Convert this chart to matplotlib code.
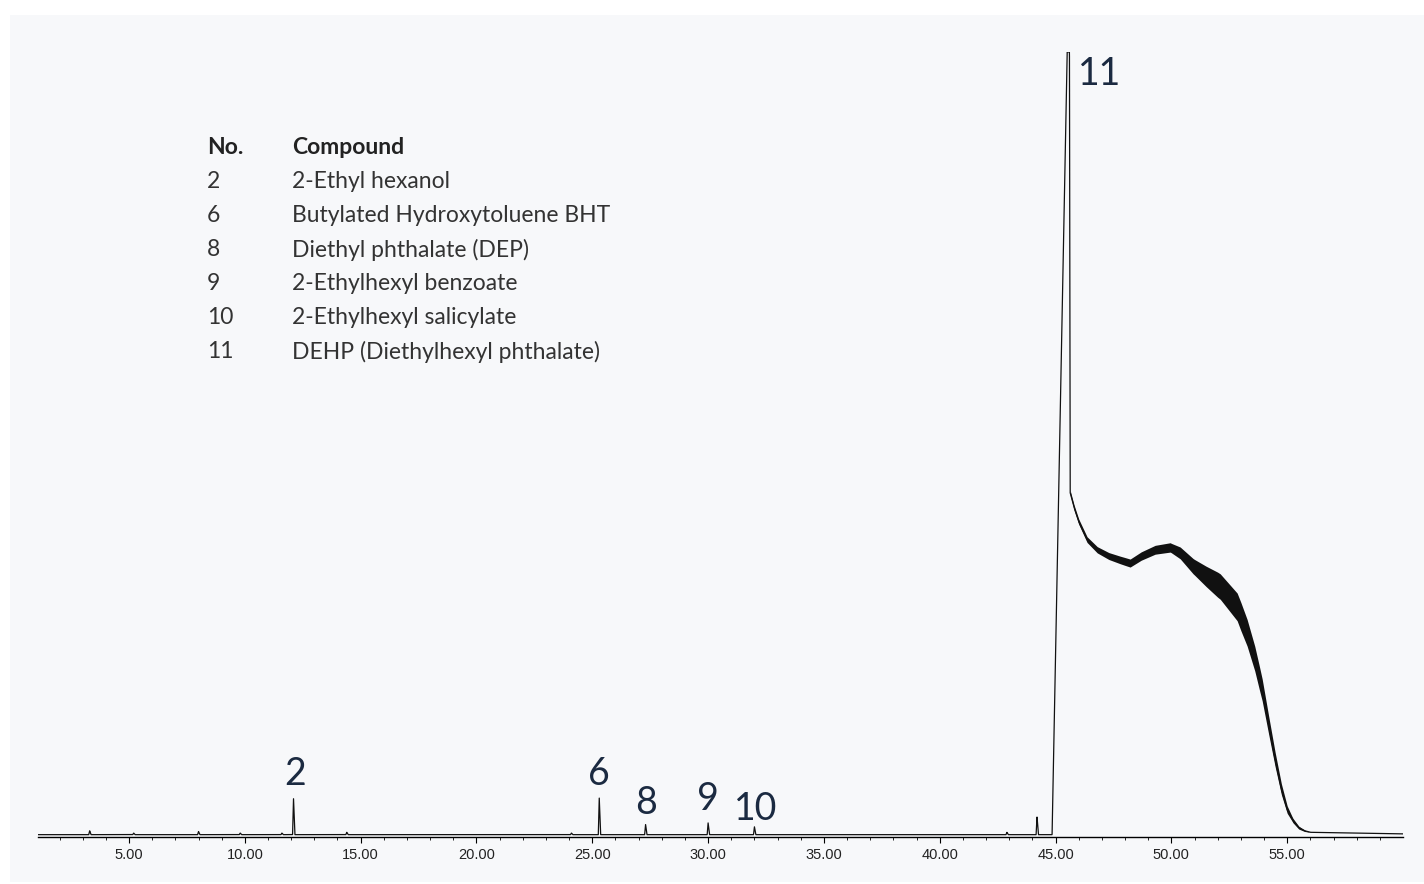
import numpy as np
import matplotlib.pyplot as plt
from matplotlib.patches import Rectangle

# pics (tiempo, altura)
peak_t = [3.3, 5.2, 8.0, 9.8, 11.6, 12.1, 14.4, 24.1, 25.3, 27.3, 30.0, 32.0, 42.9, 44.2]
peak_h = [0.5, 0.2, 0.4, 0.2, 0.2, 4.7, 0.3, 0.2, 4.7, 1.3, 1.5, 1.0, 0.3, 2.3]

# pico principal 11 y cola
main_t = [44.85, 45.50, 45.60, 45.63, 45.80, 46.00, 46.36, 46.80, 47.30, 47.79, 48.22,
          48.70, 49.30, 49.95, 50.38, 50.94, 51.50, 52.11, 52.84, 53.27, 53.60, 53.92,
          54.20, 54.48, 54.75, 55.00, 55.25, 55.50, 55.75, 56.00, 60.0]
main_y = [0.0, 100.0, 100.0, 43.7, 41.8, 40.0, 37.7, 36.4, 35.6, 35.1, 34.7,
          35.6, 36.4, 36.7, 36.0, 34.3, 33.0, 31.7, 29.1, 25.8, 22.5, 18.5,
          14.0, 9.6, 5.8, 3.2, 1.8, 0.9, 0.5, 0.3, 0.1]
# semi-ancho de la banda de ruido
band_t = [45.6, 48.0, 50.0, 51.0, 52.0, 53.0, 53.8, 54.5, 55.2, 56.0]
band_w = [0.3, 0.5, 0.6, 1.0, 1.6, 1.8, 1.5, 0.9, 0.3, 0.0]

labels = ['2', '6', '8', '9', '10', '11']
label_t = [12.15, 25.30, 27.30, 30.00, 32.05, 45.97]
label_y = [5.4, 5.4, 1.7, 2.3, 1.0, 97.2]

table_no = ['2', '6', '8', '9', '10', '11']
table_name = ['2-Ethyl hexanol', 'Butylated Hydroxytoluene BHT', 'Diethyl phthalate (DEP)',
              '2-Ethylhexyl benzoate', '2-Ethylhexyl salicylate', 'DEHP (Diethylhexyl phthalate)']

# armo la señal
kt, ky = [1.0], [0.0]
for t, h in zip(peak_t, peak_h):
    kt += [t - 0.04, t, t + 0.06]
    ky += [0.0, h, 0.0]
kt += main_t
ky += main_y
T = np.linspace(1.0, 60.0, 20000)
sig = np.interp(T, kt, ky)
w = np.interp(T, band_t, band_w, left=0, right=0)

fig = plt.figure(figsize=(14.24, 8.84), dpi=100, facecolor='white')
fig.patches.append(Rectangle((10/1424, 2/884), 1, 867/884, transform=fig.transFigure,
                             facecolor='#f7f8fa', edgecolor='none', zorder=-1))
ax = fig.add_axes([38/1424, 47/884, 1365/1424, 785/884])
ax.patch.set_alpha(0)
ax.fill_between(T, sig - w, sig + w, color='#111111', linewidth=0)
ax.plot(T, sig, color='#111111', linewidth=0.9)
ax.set_xlim(1.07, 60.0)
ax.set_ylim(-0.3, 100)
for s in ['top', 'right', 'left']:
    ax.spines[s].set_visible(False)
ax.spines['bottom'].set_linewidth(1.0)
ax.set_yticks([])
ax.set_xticks(np.arange(5, 56, 5))
ax.set_xticklabels(['%.2f' % v for v in np.arange(5, 56, 5)], fontfamily='Liberation Sans',
                   fontsize=10.5, color='#222222')
ax.set_xticks(np.arange(2, 60, 1), minor=True)
ax.tick_params(axis='x', which='major', length=4, width=0.8, pad=4)
ax.tick_params(axis='x', which='minor', length=2.5, width=0.6)

for lab, t, y in zip(labels, label_t, label_y):
    ax.text(t, y, lab, fontfamily='Lato', fontsize=27, color='#1b2a41',
            ha='left' if lab == '11' else 'center', va='center' if lab == '11' else 'bottom')

fx1, fx2 = 207/1424, 292/1424
fs = 16.5
fig.text(fx1, 1 - 148/884, 'No.', fontfamily='Lato', fontweight='bold', fontsize=fs,
         color='#222222', va='center')
fig.text(fx2, 1 - 148/884, 'Compound', fontfamily='Lato', fontweight='bold', fontsize=fs,
         color='#222222', va='center')
for i, (n, name) in enumerate(zip(table_no, table_name)):
    yy = 1 - (182 + 34*i)/884
    fig.text(fx1, yy, n, fontfamily='Lato', fontsize=fs, color='#333333', va='center')
    fig.text(fx2, yy, name, fontfamily='Lato', fontsize=fs, color='#333333', va='center')

plt.savefig('out.png', dpi=100)
